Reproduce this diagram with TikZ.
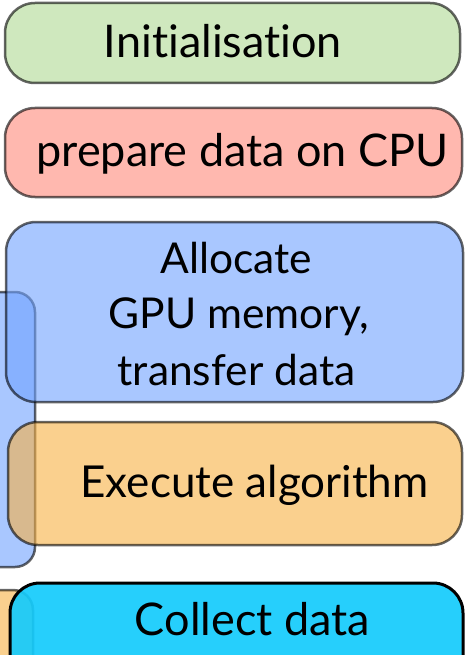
\documentclass[tikz,border=0pt]{standalone}
\usepackage{fontspec}
\setmainfont{Lato}[Ligatures={NoCommon}]
\definecolor{cgreen}{RGB}{175,217,147}
\definecolor{cred}{RGB}{255,137,123}
\definecolor{cblue}{RGB}{113,163,255}
\definecolor{corange}{RGB}{248,177,67}
\definecolor{ccyan}{RGB}{20,203,252}
\tikzset{
  box/.style={draw=black, line width=2.5pt, opacity=0.6, rounded corners=30pt},
  smallbox/.style={box, rounded corners=20pt},
  collect/.style={draw=black, line width=3pt, fill=ccyan, fill opacity=0.92, rounded corners=30pt},
  lbl/.style={anchor=base, inner sep=0pt, font=\fontsize{45}{56}\selectfont},
  lblexec/.style={anchor=base, inner sep=0pt, font=\fontsize{44}{56}\selectfont},
  lblsmall/.style={anchor=base, inner sep=0pt, font=\fontsize{42.5}{50}\selectfont},
}
\begin{document}
\begin{tikzpicture}[x=1pt,y=-1pt]
\clip (0,0) rectangle (465,655);
\fill[white] (0,0) rectangle (465,655);
% background side boxes
\path[smallbox, fill=cblue] (-40,292) rectangle (35,567);
\path[smallbox, fill=corange] (-40,590) rectangle (33,720);
% main boxes
\path[box, fill=cgreen] (5,3) rectangle (460,83);
\path[box, fill=cred] (5,108) rectangle (462,197);
\path[box, fill=cblue] (6,222) rectangle (463,402);
\path[box, fill=corange] (8,422) rectangle (462,545);
\path[collect] (10,583) rectangle (463,690);
% labels
\node[lbl] (init) at (223,58) {Initialisation};
\node[lbl] (prep) at (242.5,167) {prepare data on CPU};
\node[lblsmall] (alloc1) at (236.5,273) {Allocate};
\node[lblsmall] (alloc2) at (239,328) {GPU memory,};
\node[lblsmall] (alloc3) at (236.5,385) {transfer data};
\node[lblexec] (exec) at (254.5,497) {Execute algorithm};
\node[lbl] (coll) at (252.5,635) {Collect data};
\end{tikzpicture}
\end{document}
